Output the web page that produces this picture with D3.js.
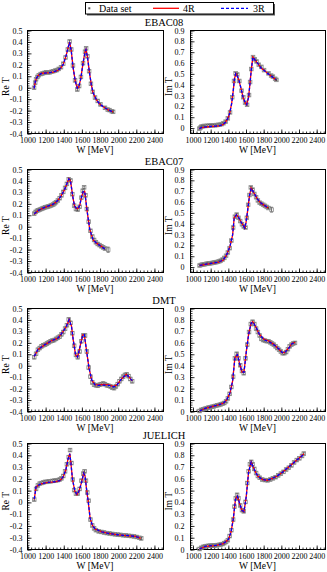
<!DOCTYPE html>
<html><head><meta charset="utf-8">
<script src="https://cdn.jsdelivr.net/npm/d3@7"></script>
<style>body{margin:0;background:#fff}svg{display:block}</style>
</head><body>
<svg id="c" width="327" height="572"></svg>
<script>
// ---------------- DATA ----------------
const panelTitles = ["EBAC08", "EBAC07", "DMT", "JUELICH"];
const xTickVals = [1000, 1200, 1400, 1600, 1800, 2000, 2200, 2400];
const reTickVals = [-0.4, -0.3, -0.2, -0.1, 0, 0.1, 0.2, 0.3, 0.4, 0.5];
const imTickVals = [0, 0.1, 0.2, 0.3, 0.4, 0.5, 0.6, 0.7, 0.8, 0.9];
const imAxisMin = [-0.05, -0.05, 0, 0];
const legendLabels = ["Data set", "4R", "3R"];

// EBAC08
const wEBAC08 = [1078,1090,1100,1115,1130,1150,1170,1190,1210,1230,1250,1270,1290,1310,1330,1350,1375,1400,1425,1450,1470,1488,1507,1530,1555,1575,1595,1618,1640,1652,1666,1685,1705,1725,1750,1780,1810,1860,1890,1910,1935,1950];
const reEBAC08 = [-0.005,0.04,0.07,0.09,0.105,0.115,0.12,0.125,0.13,0.13,0.13,0.135,0.14,0.145,0.15,0.16,0.175,0.205,0.26,0.33,0.40,0.33,0.19,0.06,-0.02,0.01,0.09,0.21,0.31,0.34,0.27,0.14,0.03,-0.04,-0.09,-0.12,-0.15,-0.18,-0.195,-0.20,-0.21,-0.215];
const imEBAC08 = [-0.01,0.0,0.008,0.012,0.015,0.015,0.017,0.018,0.02,0.02,0.021,0.023,0.025,0.027,0.032,0.04,0.055,0.085,0.14,0.28,0.43,0.50,0.49,0.43,0.34,0.28,0.23,0.21,0.30,0.42,0.54,0.65,0.63,0.61,0.58,0.56,0.53,0.50,0.48,0.47,0.45,0.44];
const fitReW_EBAC08 = [1078,1090,1100,1120,1155,1200,1250,1300,1340,1370,1400,1433,1455,1470,1488,1507,1533,1555,1570,1592,1618,1640,1650,1666,1692,1710,1729,1766,1803,1858,1900,1932,1950];
const re4R_EBAC08 = [-0.01,0.04,0.07,0.10,0.12,0.125,0.128,0.135,0.148,0.165,0.20,0.28,0.35,0.395,0.32,0.18,0.05,-0.01,0.0,0.07,0.21,0.31,0.33,0.27,0.11,0.02,-0.05,-0.11,-0.15,-0.18,-0.20,-0.21,-0.215];
const re3R_EBAC08 = [-0.01,0.045,0.072,0.10,0.118,0.124,0.128,0.136,0.15,0.167,0.20,0.28,0.352,0.393,0.318,0.18,0.052,-0.008,0.002,0.07,0.208,0.308,0.328,0.27,0.112,0.02,-0.048,-0.11,-0.148,-0.18,-0.198,-0.21,-0.213];
const fitImW_EBAC08 = [1078,1100,1150,1200,1250,1300,1340,1370,1400,1420,1443,1460,1475,1490,1505,1524,1550,1572,1595,1613,1635,1650,1665,1683,1700,1720,1750,1775,1810,1849,1900,1945];
const im4R_EBAC08 = [-0.01,0.0,0.005,0.01,0.012,0.015,0.025,0.045,0.085,0.13,0.22,0.33,0.45,0.50,0.48,0.44,0.36,0.28,0.23,0.21,0.28,0.40,0.53,0.65,0.63,0.61,0.58,0.55,0.53,0.50,0.47,0.44];
const im3R_EBAC08 = [-0.01,0.0,0.006,0.01,0.013,0.016,0.026,0.046,0.086,0.13,0.22,0.33,0.448,0.498,0.48,0.44,0.36,0.282,0.232,0.212,0.28,0.40,0.528,0.648,0.632,0.61,0.58,0.55,0.528,0.50,0.47,0.442];

// EBAC07
const wEBAC07 = [1080,1095,1110,1125,1140,1155,1170,1185,1200,1215,1230,1245,1260,1275,1290,1305,1320,1340,1360,1380,1400,1420,1440,1460,1480,1500,1520,1540,1560,1580,1600,1615,1630,1645,1660,1680,1700,1720,1740,1760,1780,1800,1820,1840,1860,1895];
const reEBAC07 = [0.11,0.125,0.135,0.14,0.145,0.15,0.155,0.16,0.165,0.168,0.172,0.175,0.18,0.185,0.19,0.20,0.21,0.225,0.245,0.27,0.30,0.335,0.37,0.41,0.40,0.28,0.18,0.15,0.145,0.17,0.25,0.31,0.34,0.27,0.15,0.04,-0.04,-0.09,-0.12,-0.14,-0.155,-0.165,-0.175,-0.185,-0.195,-0.205];
const imEBAC07 = [0.01,0.015,0.018,0.02,0.022,0.025,0.027,0.03,0.03,0.032,0.035,0.037,0.04,0.042,0.045,0.05,0.055,0.065,0.08,0.10,0.13,0.17,0.24,0.36,0.46,0.48,0.45,0.42,0.39,0.37,0.36,0.45,0.57,0.66,0.73,0.71,0.67,0.64,0.61,0.59,0.58,0.57,0.56,0.55,0.54,0.525];
const fitReW_EBAC07 = [1080,1120,1155,1200,1229,1270,1303,1340,1359,1390,1414,1440,1462,1481,1507,1525,1545,1560,1581,1600,1618,1636,1666,1692,1729,1766,1821,1858];
const re4R_EBAC07 = [0.105,0.135,0.15,0.165,0.174,0.185,0.20,0.225,0.245,0.285,0.32,0.37,0.416,0.39,0.247,0.174,0.155,0.155,0.18,0.25,0.30,0.305,0.115,-0.03,-0.12,-0.148,-0.176,-0.20];
const re3R_EBAC07 = [0.108,0.136,0.15,0.166,0.175,0.186,0.20,0.226,0.246,0.285,0.32,0.372,0.414,0.388,0.25,0.176,0.156,0.154,0.18,0.252,0.302,0.306,0.118,-0.028,-0.118,-0.148,-0.178,-0.198];
const fitImW_EBAC07 = [1081,1185,1295,1350,1387,1424,1454,1472,1498,1524,1550,1572,1590,1605,1620,1646,1664,1694,1738,1775,1830,1856];
const im4R_EBAC07 = [0.01,0.025,0.04,0.06,0.11,0.185,0.29,0.45,0.48,0.45,0.41,0.385,0.355,0.40,0.49,0.66,0.725,0.68,0.62,0.585,0.555,0.54];
const im3R_EBAC07 = [0.012,0.026,0.041,0.062,0.11,0.186,0.292,0.448,0.478,0.452,0.41,0.384,0.356,0.402,0.49,0.658,0.722,0.682,0.62,0.586,0.556,0.542];

// DMT
const wDMT = [1080,1100,1120,1140,1160,1180,1200,1220,1240,1260,1280,1300,1320,1340,1360,1380,1400,1420,1440,1460,1480,1500,1520,1540,1560,1580,1600,1620,1640,1660,1680,1700,1720,1740,1760,1780,1800,1820,1840,1860,1880,1900,1920,1940,1960,1980,2000,2020,2040,2060,2080,2100,2120,2140,2160];
const reDMT = [0.07,0.10,0.135,0.15,0.165,0.175,0.18,0.19,0.20,0.21,0.215,0.22,0.23,0.24,0.25,0.27,0.29,0.32,0.35,0.40,0.37,0.28,0.17,0.09,0.07,0.12,0.21,0.26,0.26,0.12,-0.02,-0.10,-0.15,-0.17,-0.175,-0.18,-0.17,-0.165,-0.16,-0.165,-0.175,-0.18,-0.185,-0.195,-0.20,-0.185,-0.165,-0.14,-0.12,-0.10,-0.085,-0.08,-0.095,-0.12,-0.14];
const imDMT = [0.0,0.01,0.015,0.02,0.025,0.03,0.033,0.037,0.04,0.045,0.05,0.053,0.058,0.063,0.07,0.085,0.11,0.15,0.21,0.30,0.46,0.50,0.46,0.40,0.35,0.33,0.46,0.58,0.69,0.76,0.78,0.76,0.72,0.69,0.66,0.63,0.62,0.615,0.61,0.61,0.60,0.59,0.58,0.565,0.55,0.535,0.52,0.505,0.505,0.515,0.54,0.565,0.58,0.59,0.595];
const fitReW_DMT = [1080,1119,1193,1268,1342,1398,1435,1465,1491,1510,1536,1558,1584,1614,1632,1658,1684,1714,1751,1789,1844,1900,1956,1993,2030,2068,2094,2123,2160];
const re4R_DMT = [0.076,0.135,0.178,0.213,0.237,0.295,0.34,0.40,0.34,0.22,0.09,0.07,0.16,0.266,0.266,0.12,-0.026,-0.13,-0.17,-0.172,-0.168,-0.172,-0.187,-0.17,-0.13,-0.10,-0.08,-0.10,-0.137];
const re3R_DMT = [0.078,0.136,0.178,0.212,0.238,0.294,0.342,0.398,0.338,0.222,0.092,0.072,0.158,0.264,0.268,0.122,-0.024,-0.128,-0.172,-0.176,-0.174,-0.176,-0.19,-0.172,-0.132,-0.10,-0.082,-0.10,-0.135];
const fitImW_DMT = [1081,1148,1221,1295,1350,1387,1424,1454,1480,1509,1535,1561,1583,1609,1635,1664,1683,1720,1756,1812,1867,1923,1978,2015,2041,2089,2126,2162];
const im4R_DMT = [0.0,0.024,0.038,0.053,0.068,0.097,0.156,0.26,0.465,0.494,0.406,0.34,0.34,0.52,0.67,0.77,0.78,0.73,0.67,0.625,0.61,0.58,0.54,0.51,0.51,0.55,0.59,0.60];
const im3R_DMT = [0.0,0.025,0.039,0.054,0.069,0.098,0.157,0.262,0.462,0.492,0.408,0.342,0.338,0.518,0.668,0.768,0.778,0.732,0.672,0.622,0.605,0.578,0.542,0.512,0.508,0.548,0.588,0.598];

// JUELICH
const wJUELICH = [1080,1100,1120,1140,1160,1180,1200,1220,1240,1260,1280,1300,1320,1340,1360,1380,1400,1420,1440,1460,1475,1490,1505,1520,1540,1560,1580,1600,1620,1635,1650,1665,1680,1700,1720,1740,1760,1790,1820,1850,1880,1910,1940,1970,2000,2030,2060,2090,2120,2150,2180,2210,2240,2260];
const reJUELICH = [0.02,0.11,0.14,0.155,0.16,0.165,0.17,0.17,0.175,0.175,0.178,0.18,0.182,0.185,0.19,0.20,0.22,0.26,0.32,0.38,0.44,0.33,0.19,0.10,0.07,0.07,0.11,0.18,0.24,0.26,0.18,0.08,0.01,-0.15,-0.20,-0.225,-0.24,-0.25,-0.255,-0.26,-0.265,-0.268,-0.272,-0.275,-0.278,-0.28,-0.283,-0.285,-0.288,-0.29,-0.293,-0.298,-0.305,-0.31];
const imJUELICH = [0.0,0.01,0.018,0.022,0.025,0.027,0.028,0.029,0.03,0.031,0.033,0.035,0.038,0.042,0.05,0.06,0.075,0.11,0.16,0.25,0.36,0.43,0.46,0.43,0.37,0.33,0.32,0.40,0.56,0.66,0.72,0.74,0.72,0.68,0.645,0.62,0.605,0.59,0.585,0.583,0.59,0.60,0.61,0.625,0.64,0.655,0.675,0.69,0.71,0.735,0.755,0.77,0.79,0.81];
const fitReW_JUELICH = [1080,1100,1156,1231,1305,1361,1398,1428,1454,1472,1484,1502,1528,1551,1573,1603,1625,1640,1658,1677,1696,1722,1751,1826,1900,2012,2123,2198,2254];
const re4R_JUELICH = [0.02,0.13,0.154,0.165,0.17,0.18,0.21,0.27,0.37,0.41,0.33,0.19,0.09,0.06,0.09,0.17,0.245,0.22,0.10,-0.01,-0.14,-0.20,-0.23,-0.254,-0.268,-0.28,-0.288,-0.293,-0.31];
const re3R_JUELICH = [0.025,0.13,0.155,0.166,0.171,0.18,0.212,0.272,0.368,0.408,0.332,0.19,0.092,0.062,0.09,0.168,0.243,0.22,0.102,-0.008,-0.138,-0.20,-0.23,-0.255,-0.268,-0.28,-0.287,-0.293,-0.308];
const fitImW_JUELICH = [1080,1148,1258,1350,1406,1435,1461,1487,1509,1535,1561,1583,1609,1635,1664,1701,1738,1793,1849,1904,1959,2015,2070,2125,2181,2236,2262];
const im4R_JUELICH = [0.0,0.023,0.029,0.046,0.08,0.14,0.25,0.425,0.45,0.38,0.325,0.316,0.45,0.655,0.74,0.67,0.62,0.59,0.583,0.60,0.62,0.65,0.684,0.72,0.756,0.79,0.81];
const im3R_JUELICH = [0.0,0.024,0.03,0.047,0.081,0.142,0.252,0.422,0.448,0.382,0.326,0.318,0.448,0.652,0.738,0.672,0.621,0.59,0.584,0.60,0.621,0.65,0.685,0.72,0.755,0.788,0.808];

// data uncertainties (per row): Re, Im, and the wider final point of EBAC07
const errRe = [0.012, 0.012, 0.014, 0.012];
const errIm = [0.01, 0.01, 0.012, 0.012];
const errLast = [null, 0.022, null, null];

// --------------- LAYOUT ---------------
const rowTop = [30, 169, 308, 443];
const rowH = [103, 103, 103, 106];
const colBox = [[27, 163], [190, 325]];     // frame edges
const colScale = [[27, 163], [192.5, 325]]; // W = 1000 .. 2500 mapped here
const FONT = '"Liberation Serif","Times New Roman",Times,serif';

const rows = [
  {w: wEBAC08, re: reEBAC08, im: imEBAC08, fReW: fitReW_EBAC08, re4: re4R_EBAC08, re3: re3R_EBAC08, fImW: fitImW_EBAC08, im4: im4R_EBAC08, im3: im3R_EBAC08},
  {w: wEBAC07, re: reEBAC07, im: imEBAC07, fReW: fitReW_EBAC07, re4: re4R_EBAC07, re3: re3R_EBAC07, fImW: fitImW_EBAC07, im4: im4R_EBAC07, im3: im3R_EBAC07},
  {w: wDMT, re: reDMT, im: imDMT, fReW: fitReW_DMT, re4: re4R_DMT, re3: re3R_DMT, fImW: fitImW_DMT, im4: im4R_DMT, im3: im3R_DMT},
  {w: wJUELICH, re: reJUELICH, im: imJUELICH, fReW: fitReW_JUELICH, re4: re4R_JUELICH, re3: re3R_JUELICH, fImW: fitImW_JUELICH, im4: im4R_JUELICH, im3: im3R_JUELICH}
];

const svg = d3.select("#c");
const fmtY = d => (Math.abs(d) < 1e-9 ? "0" : d.toFixed(1));

function panel(r, col) {
  const R = rows[r];
  const [x0, x1] = colBox[col];
  const top = rowTop[r], h = rowH[r];
  const isRe = col === 0;
  const yDom = isRe ? [-0.4, 0.5] : [imAxisMin[r], 0.9];
  const x = d3.scaleLinear().domain([1000, 2500]).range(colScale[col]);
  const y = d3.scaleLinear().domain(yDom).range([top + h, top]);
  const g = svg.append("g");

  // frame
  g.append("rect").attr("x", x0 + 0.5).attr("y", top + 0.5)
    .attr("width", x1 - x0).attr("height", h)
    .attr("fill", "none").attr("stroke", "#000").attr("stroke-width", 1);

  // ticks
  const xMinor = d3.range(1000, 2501, 40);
  const yMinor = d3.range(Math.ceil(yDom[0] * 50 - 1e-9), Math.floor(yDom[1] * 50 + 1e-9) + 1).map(i => i / 50);
  const styleAxis = a => {
    a.select(".domain").remove();
    a.selectAll("line").attr("stroke", "#000").attr("stroke-width", 0.8);
    a.selectAll("text").attr("font-family", FONT).attr("font-size", 8).attr("fill", "#000");
  };
  g.append("g").attr("transform", `translate(0.5,${top + h + 0.5})`)
    .call(d3.axisBottom(x).tickValues(xMinor).tickSize(-2).tickFormat("")).call(styleAxis);
  g.append("g").attr("transform", `translate(0.5,${top + h + 0.5})`)
    .call(d3.axisBottom(x).tickValues(xTickVals).tickSize(-4).tickPadding(4).tickFormat(d3.format("d"))).call(styleAxis);
  g.append("g").attr("transform", `translate(${x0 + 0.5},0.5)`)
    .call(d3.axisLeft(y).tickValues(yMinor).tickSize(-2).tickFormat("")).call(styleAxis);
  g.append("g").attr("transform", `translate(${x0 + 0.5},0.5)`)
    .call(d3.axisLeft(y).tickValues(isRe ? reTickVals : imTickVals).tickSize(-4).tickPadding(isRe ? 5 : 6).tickFormat(fmtY)).call(styleAxis);

  // axis titles
  g.append("text").attr("x", (x0 + x1) / 2).attr("y", top + h + 19.5)
    .attr("text-anchor", "middle").attr("font-family", FONT).attr("font-size", 9.5).text("W [MeV]");
  const tx = x0 - 18;
  const ty = top + h * 0.55;
  g.append("text").attr("transform", `translate(${tx},${ty}) rotate(-90)`)
    .attr("text-anchor", "middle").attr("font-family", FONT).attr("font-size", 9.5).text(isRe ? "Re T" : "Im T");

  // data
  const vals = isRe ? R.re : R.im;
  const eBase = isRe ? errRe[r] : errIm[r];
  const pts = R.w.map((w, i) => ({w, v: vals[i], e: (i === R.w.length - 1 && errLast[r] != null) ? errLast[r] : eBase}));
  const dg = g.append("g");
  pts.forEach(p => {
    const cx = x(p.w), ytop = y(p.v + p.e), ybot = y(p.v - p.e);
    dg.append("line").attr("x1", cx).attr("x2", cx).attr("y1", ytop).attr("y2", ybot).attr("stroke", "#333").attr("stroke-width", 0.7);
    dg.append("line").attr("x1", cx - 1.5).attr("x2", cx + 1.5).attr("y1", ytop).attr("y2", ytop).attr("stroke", "#333").attr("stroke-width", 0.7);
    dg.append("line").attr("x1", cx - 1.5).attr("x2", cx + 1.5).attr("y1", ybot).attr("y2", ybot).attr("stroke", "#333").attr("stroke-width", 0.7);
    dg.append("rect").attr("x", cx - 1.8).attr("y", y(p.v) - 1.8).attr("width", 3.6).attr("height", 3.6)
      .attr("fill", "none").attr("stroke", "#8a8a8a").attr("stroke-width", 0.8);
  });

  // fits
  const fW = isRe ? R.fReW : R.fImW;
  const f4 = isRe ? R.re4 : R.im4;
  const f3 = isRe ? R.re3 : R.im3;
  const line = d3.line().x(d => x(d[0])).y(d => y(d[1]));
  g.append("path").attr("d", line(fW.map((w, i) => [w, f4[i]])))
    .attr("fill", "none").attr("stroke", "#ff0000").attr("stroke-width", 1.3);
  g.append("path").attr("d", line(fW.map((w, i) => [w, f3[i]])))
    .attr("fill", "none").attr("stroke", "#0000ff").attr("stroke-width", 1.3).attr("stroke-dasharray", "3,2");
}

for (let r = 0; r < 4; r++) {
  svg.append("text").attr("x", 164).attr("y", rowTop[r] - 4)
    .attr("text-anchor", "middle").attr("font-family", FONT).attr("font-size", 10.5).text(panelTitles[r]);
  panel(r, 0);
  panel(r, 1);
}

// legend
const lg = svg.append("g");
lg.append("rect").attr("x", 87).attr("y", 4).attr("width", 188).attr("height", 11.5).attr("fill", "#555");
lg.append("rect").attr("x", 85.5).attr("y", 2.5).attr("width", 188).attr("height", 11.5)
  .attr("fill", "#fff").attr("stroke", "#000").attr("stroke-width", 1);
lg.append("rect").attr("x", 88.3).attr("y", 7.3).attr("width", 2).attr("height", 2).attr("fill", "#555");
lg.append("text").attr("x", 99).attr("y", 11.8).attr("font-family", FONT).attr("font-size", 10).text(legendLabels[0]);
lg.append("line").attr("x1", 153).attr("x2", 179).attr("y1", 8.3).attr("y2", 8.3).attr("stroke", "#ff0000").attr("stroke-width", 1.3);
lg.append("text").attr("x", 183).attr("y", 11.8).attr("font-family", FONT).attr("font-size", 10).text(legendLabels[1]);
lg.append("line").attr("x1", 221).attr("x2", 248).attr("y1", 8.3).attr("y2", 8.3).attr("stroke", "#0000ff").attr("stroke-width", 1.3).attr("stroke-dasharray", "3,2");
lg.append("text").attr("x", 253).attr("y", 11.8).attr("font-family", FONT).attr("font-size", 10).text(legendLabels[2]);
</script>
</body></html>
